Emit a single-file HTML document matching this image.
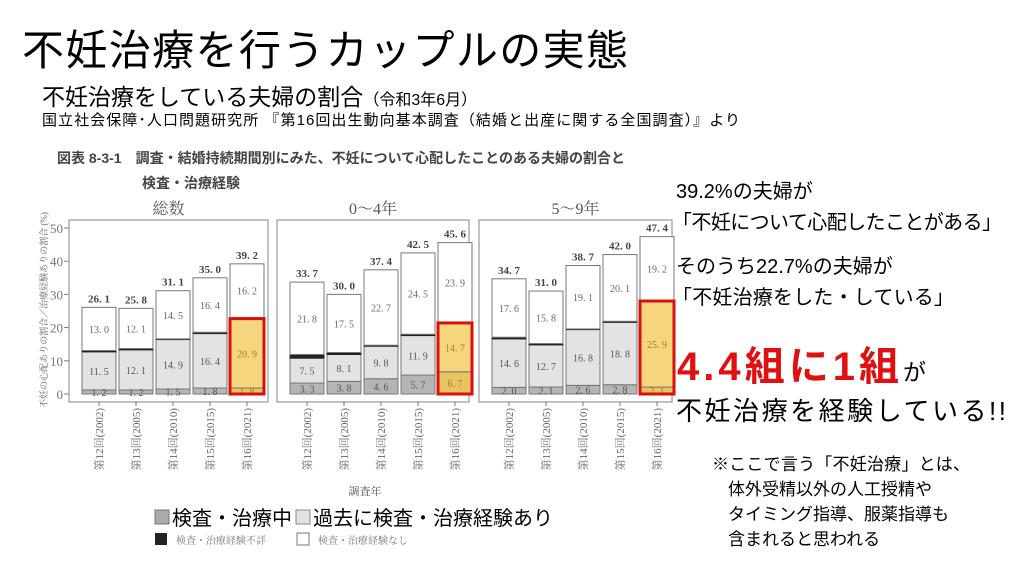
<!DOCTYPE html>
<html><head><meta charset="utf-8">
<style>
body{margin:0;width:1024px;height:576px;background:#fff;overflow:hidden;font-family:"Liberation Sans","Noto Sans CJK JP",sans-serif;}
svg{position:absolute;left:0;top:0}
.jp{font-family:"Liberation Sans","Noto Sans CJK JP",sans-serif}
.serif{font-family:"Liberation Serif","Noto Serif CJK SC",serif}
</style></head>
<body>
<svg id="chart" width="1024" height="576" xmlns="http://www.w3.org/2000/svg">
<text x="22" y="65" font-size="42" textLength="606" class="jp" fill="#000">不妊治療を行うカップルの実態</text>
<text x="42" y="105" font-size="23" class="jp">不妊治療をしている夫婦の割合<tspan font-size="16">（令和3年6月）</tspan></text>
<text x="42" y="125" font-size="15" textLength="698" class="jp">国立社会保障･人口問題研究所 『第16回出生動向基本調査（結婚と出産に関する全国調査）』より</text>
<text x="57" y="163" font-size="14" font-weight="bold" fill="#444" class="jp">図表 8-3-1　調査・結婚持続期間別にみた、不妊について心配したことのある夫婦の割合と</text>
<text x="142" y="188" font-size="14" font-weight="bold" fill="#444" class="jp">検査・治療経験</text>
<text transform="translate(47,310) rotate(-90)" font-size="9" fill="#666" text-anchor="middle" class="serif">不妊の心配ありの割合／治療経験ありの割合 (%)</text>
<text x="365" y="495" font-size="11" fill="#555" text-anchor="middle" class="serif">調査年</text>
<g id="plot"></g>
<rect x="155" y="510" width="14" height="14" fill="#aaa" stroke="#777"/>
<text x="172" y="525" font-size="20" class="jp">検査・治療中</text>
<rect x="296" y="510" width="14" height="14" fill="#e3e3e3" stroke="#888"/>
<text x="313" y="525" font-size="20" class="jp">過去に検査・治療経験あり</text>
<rect x="155" y="533" width="12" height="12" fill="#222"/>
<text x="176" y="544" font-size="10" fill="#777" class="serif">検査・治療経験不詳</text>
<rect x="297" y="533" width="12" height="12" fill="#fff" stroke="#777"/>
<text x="318" y="544" font-size="10" fill="#777" class="serif">検査・治療経験なし</text>
<g class="jp">
<text x="676" y="198" font-size="20">39.2%の夫婦が</text>
<text x="672" y="229" font-size="20" textLength="330">「不妊について心配したことがある」</text>
<text x="676" y="273" font-size="20">そのうち22.7%の夫婦が</text>
<text x="672" y="304" font-size="20" textLength="282">「不妊治療をした・している」</text>
<text x="677" y="380" font-size="40" font-weight="bold" fill="#e01010"><tspan textLength="222">4.4組に1組</tspan><tspan font-size="23" font-weight="normal" fill="#000">が</tspan></text>
<text x="676" y="420" font-size="26" textLength="330">不妊治療を経験している!!</text>
<text x="712" y="470" font-size="17" textLength="258">※ここで言う「不妊治療」とは、</text>
<text x="728" y="495" font-size="17">体外受精以外の人工授精や</text>
<text x="728" y="520" font-size="17">タイミング指導、服薬指導も</text>
<text x="728" y="545" font-size="17">含まれると思われる</text>
</g>
</svg>
<script>
const panels = ["総数", "0～4年", "5～9年"];
const years = ["第12回(2002)", "第13回(2005)", "第14回(2010)", "第15回(2015)", "第16回(2021)"];
const current = [[1.2,1.2,1.5,1.8,1.8],[3.3,3.8,4.6,5.7,6.7],[2.0,2.1,2.6,2.8,2.1]];
const past = [[11.5,12.1,14.9,16.4,20.9],[7.5,8.1,9.8,11.9,14.7],[14.6,12.7,16.8,18.8,25.9]];
const unknown = [[0.4,0.4,0.2,0.4,0.3],[1.1,0.6,0.3,0.4,0.3],[0.5,0.4,0.2,0.3,0.2]];
const none = [[13.0,12.1,14.5,16.4,16.2],[21.8,17.5,22.7,24.5,23.9],[17.6,15.8,19.1,20.1,19.2]];
const totals = [[26.1,25.8,31.1,35.0,39.2],[33.7,30.0,37.4,42.5,45.6],[34.7,31.0,38.7,42.0,47.4]];
const yTicks = [0,10,20,30,40,50];

const NS = "http://www.w3.org/2000/svg";
const g = document.getElementById('plot');
const y0 = 394, pxPer = 3.32;
const yS = v => y0 - v * pxPer;
const panelX = [69, 277, 479], panelW = [199, 192, 193];
const barW = 34;
const barX = (p, i) => panelX[p] + 13 + i * 37;
function el(tag, attrs) { const e = document.createElementNS(NS, tag); for (const k in attrs) e.setAttribute(k, attrs[k]); g.appendChild(e); return e; }
const fmt = v => v.toFixed(1).replace('.', '. ');

yTicks.forEach(t => {
  const tl = el('text', {x: 63, y: yS(t) + 5, 'font-size': 13, fill: '#777', 'text-anchor': 'end', class: 'serif'});
  
  
  tl.textContent = t;
  const tk = el('line', {x1: 64, x2: 69, y1: yS(t), y2: yS(t), stroke: '#777'});
  
  
});

panels.forEach((name, p) => {
  const fr = el('rect', {x: panelX[p], y: 220, width: panelW[p], height: 182, fill: 'none', stroke: '#999', 'stroke-width': 1.2});
  
  
  const pt = el('text', {x: panelX[p] + panelW[p] / 2, y: 214, 'font-size': 16, fill: '#555', 'text-anchor': 'middle', class: 'serif'});
  
  
  pt.textContent = name;
  years.forEach((yr, i) => {
    const x = barX(p, i), cx = x + barW / 2;
    const hl = i === 4;
    let base = 0;
    const segs = [
      [current[p][i], hl ? '#e9c35e' : '#b5b5b5', 'bar-current'],
      [past[p][i], hl ? '#f5d67c' : '#e3e3e3', 'bar-past'],
      [unknown[p][i], '#222', 'bar-unknown'],
      [none[p][i], '#fff', 'bar-none']
    ];
    segs.forEach(([v, c, n]) => {
      const r = el('rect', {x: x, y: yS(base + v), width: barW, height: v * pxPer, fill: c, stroke: n === 'bar-unknown' ? '#222' : '#777', 'stroke-width': 1});
      
      
      base += v;
    });
    const lbl = (v, yy, n, col) => {
      const t = el('text', {x: cx, y: yy, 'font-size': 10, fill: col, 'text-anchor': 'middle', class: 'serif'});
      
      
      t.textContent = fmt(v);
    };
    lbl(current[p][i], yS(current[p][i] / 2) + 4, 'value-current', hl ? '#a08030' : '#555');
    lbl(past[p][i], yS(current[p][i] + past[p][i] / 2) + 4, 'value-past', hl ? '#a08030' : '#555');
    lbl(none[p][i], yS(totals[p][i] - none[p][i] / 2) + 4, 'value-none', '#666');
    const tt = el('text', {x: cx, y: yS(totals[p][i]) - 5, 'font-size': 11, 'font-weight': 'bold', fill: '#444', 'text-anchor': 'middle', class: 'serif'});
    
    
    tt.textContent = fmt(totals[p][i]);
    if (hl) {
      const h = el('rect', {x: x, y: yS(current[p][i] + past[p][i]), width: barW, height: (current[p][i] + past[p][i]) * pxPer, fill: 'none', stroke: '#d81010', 'stroke-width': 3});
      
      
    }
    const tk = el('line', {x1: cx, x2: cx, y1: 402, y2: 406, stroke: '#777'});
    
    
    const xl = el('text', {transform: `translate(${cx + 4},408) rotate(-90)`, 'font-size': 11, fill: '#666', 'text-anchor': 'end', class: 'serif'});
    
    
    xl.textContent = yr;
  });
});
</script>
</body></html>
